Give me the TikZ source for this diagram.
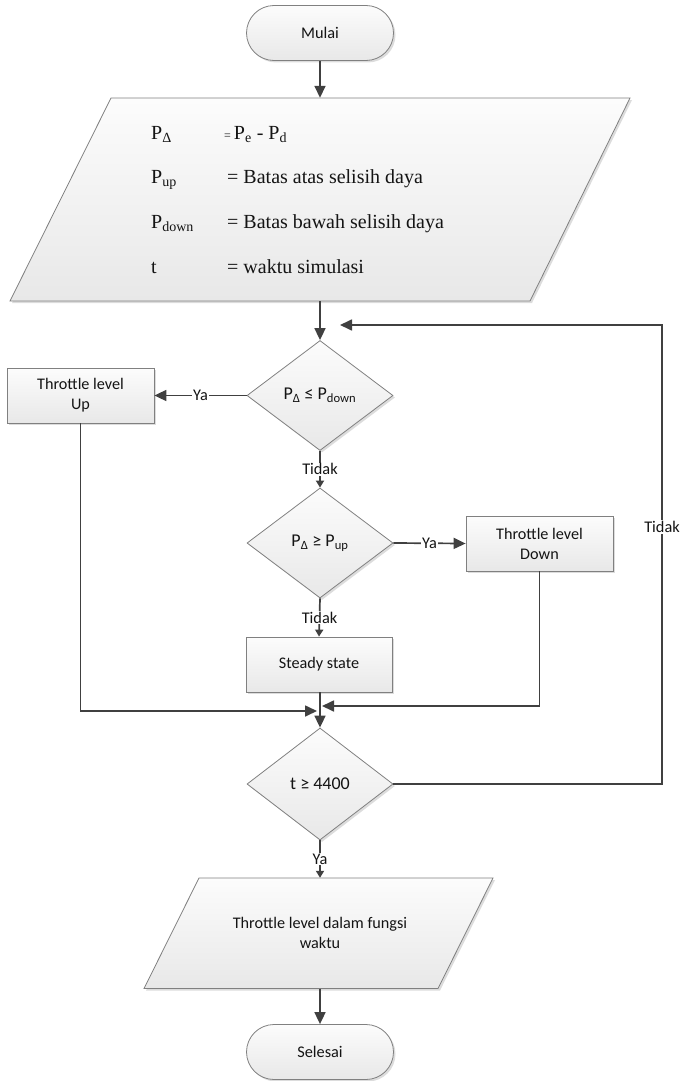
\documentclass[tikz,border=0pt]{standalone}
\usepackage{fontspec}
\setmainfont{Carlito}
\newfontfamily\serifvars{Liberation Serif}
\usetikzlibrary{shapes.geometric, arrows.meta, shadows}

\definecolor{edgegray}{RGB}{128,128,128}
\definecolor{linegray}{RGB}{64,64,64}
\definecolor{shadegray}{RGB}{232,232,232}
\definecolor{lightgray}{RGB}{252,252,252}
\definecolor{inkgray}{RGB}{20,20,20}

\tikzset{
  shape fill/.style={draw=edgegray, line width=0.8pt, top color=lightgray, bottom color=shadegray,
    drop shadow={shadow xshift=2pt, shadow yshift=-2pt, fill=black!30, opacity=0.45}},
  shape base/.style={shape fill, text=inkgray, align=center, inner sep=2pt},
  terminal/.style={shape base, rectangle, rounded corners=27.5pt,
    minimum width=147pt, minimum height=55pt, font=\fontsize{16.3}{19.5}\selectfont},
  process/.style={shape base, rectangle, minimum width=147pt, minimum height=55pt,
    font=\fontsize{16.2}{20}\selectfont},
  decision/.style={shape base, diamond, minimum width=146pt, minimum height=110pt,
    inner sep=0pt, font=\fontsize{18}{20}\selectfont},
  iotext/.style={rectangle, draw=none, text=inkgray, align=center, inner sep=0pt,
    font=\fontsize{16.2}{20}\selectfont},
  conn/.style={draw=linegray, line width=1.7pt, -{Triangle[length=12pt,width=11pt]}},
  shorttip/.style={draw=linegray, line width=1.7pt, -{Triangle[length=7pt,width=8pt]}},
  lbl/.style={fill=white, inner sep=1pt, text=inkgray, font=\fontsize{16.3}{18}\selectfont},
  vartext/.style={anchor=base west, inner sep=0pt, text=inkgray, font=\serifvars\fontsize{20}{22}\selectfont},
}

\begin{document}
\begin{tikzpicture}[x=1pt, y=-1pt]
  \useasboundingbox (0,0) rectangle (680,1081);

  % input / output blocks (parallelograms)
  \path[shape fill] (111,98) -- (630,98) -- (530,301) -- (10,301) -- cycle;
  \path[shape fill] (199,878) -- (493,878) -- (438,988.5) -- (144,988.5) -- cycle;

  % shapes
  \node[terminal] (start) at (320,33) {Mulai};
  \node[iotext, minimum width=420pt, minimum height=203pt] (data) at (320,199.5) {};
  \node[decision] (d1) at (320,395.5) {P\textsubscript{Δ} ≤ P\textsubscript{down}};
  \node[process] (up) at (80.5,395.5) {Throttle level\\Up};
  \node[decision] (d2) at (320,543) {P\textsubscript{Δ} ≥ P\textsubscript{up}};
  \node[process] (down) at (539.5,543.5) {Throttle level\\Down};
  \node[process, minimum width=146pt] (steady) at (319,664.5) {Steady state};
  \node[decision, minimum height=112pt] (d3) at (320,784) {t ≥ 4400};
  \node[iotext, minimum width=250pt, minimum height=110.5pt] (out) at (320,933.25)
    {Throttle level dalam fungsi\\waktu};
  \node[terminal] (stop) at (320,1052) {Selesai};

  % variable definitions inside the input block
  \node[vartext] (v1) at (151,139) {P\textsubscript{Δ}};
  \node[vartext] (e1) at (224,139) {{\fontsize{12}{12}\selectfont =}\hspace{3pt}P\textsubscript{e} - P\textsubscript{d}};
  \node[vartext] (v2) at (151,183) {P\textsubscript{up}};
  \node[vartext] (e2) at (227,183) {= Batas atas selisih daya};
  \node[vartext] (v3) at (151,228) {P\textsubscript{down}};
  \node[vartext] (e3) at (227,228) {= Batas bawah selisih daya};
  \node[vartext] (v4) at (151,273) {t};
  \node[vartext] (e4) at (227,273) {= waktu simulasi};

  % helper points for merging and loop-back lines
  \coordinate (mergeL) at (317,711);
  \coordinate (mergeR) at (322,706);
  \coordinate (loopTop) at (662,325);
  \coordinate (loopEnd) at (340,325);

  % connectors
  \draw[conn] (start.south) -- (data.north);
  \draw[conn] (data.south) -- (d1.north);
  \draw[conn] (d1.west) -- node[lbl] {Ya} (up.east);
  \draw[shorttip] (d1.south) -- node[lbl] {Tidak} (d2.north);
  \draw[conn] (d2.east) -- node[lbl] {Ya} (down.west);
  \draw[shorttip] (d2.south) -- node[lbl] {Tidak} (steady.north);
  \draw[conn] (steady.south -| d3.north) -- (d3.north);
  \draw[conn] (up.south) |- (mergeL);
  \draw[conn] (down.south) |- (mergeR);
  \draw[conn] (d3.east) -| (loopTop) -- (loopEnd);
  \node[lbl] (loopLbl) at (662,527) {Tidak};
  \draw[shorttip] (d3.south) -- node[lbl] {Ya} (out.north);
  \draw[conn] (out.south) -- (stop.north);
\end{tikzpicture}
\end{document}
